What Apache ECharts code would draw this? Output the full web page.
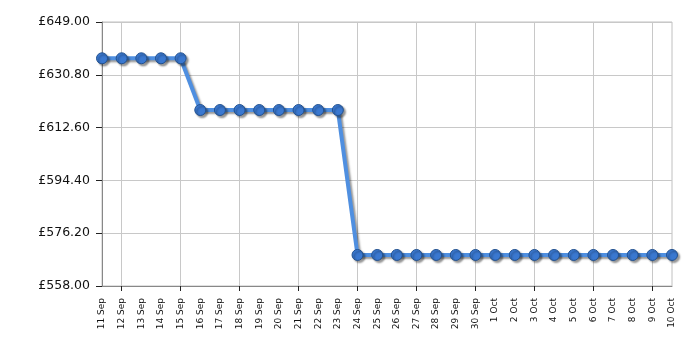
<!DOCTYPE html>
<html>
<head>
<meta charset="utf-8">
<script src="https://cdn.jsdelivr.net/npm/echarts@6/dist/echarts.min.js"></script>
<style>html,body{margin:0;padding:0;background:#fff}#c{width:700px;height:350px}</style>
</head>
<body>
<div id="c"></div>
<script>
const categories = ['11 Sep','12 Sep','13 Sep','14 Sep','15 Sep','16 Sep','17 Sep','18 Sep','19 Sep','20 Sep','21 Sep','22 Sep','23 Sep','24 Sep','25 Sep','26 Sep','27 Sep','28 Sep','29 Sep','30 Sep','1 Oct','2 Oct','3 Oct','4 Oct','5 Oct','6 Oct','7 Oct','8 Oct','9 Oct','10 Oct'];
const prices = [636.49,636.49,636.49,636.49,636.49,618.66,618.66,618.66,618.66,618.66,618.66,618.66,618.66,568.70,568.70,568.70,568.70,568.70,568.70,568.70,568.70,568.70,568.70,568.70,568.70,568.70,568.70,568.70,568.70,568.70];
const yMin = 558.00, yMax = 649.00, yStep = 18.20;

const chart = echarts.init(document.getElementById('c'));
const font = 'DejaVu Sans, Verdana, sans-serif';
chart.setOption({
  animation: false,
  grid: {left: 102, top: 22, right: 28, bottom: 64, show: true, borderColor: '#c0c0c0', borderWidth: 1, backgroundColor: 'transparent'},
  xAxis: {
    type: 'category', data: categories, boundaryGap: false,
    axisLine: {lineStyle: {color: '#888', width: 1}},
    axisTick: {show: true, length: 5, interval: (i) => i % 3 === 1, lineStyle: {color: '#222'}},
    splitLine: {show: true, interval: (i) => i % 3 === 1, lineStyle: {color: '#c8c8c8', width: 1}},
    axisLabel: {interval: 0, rotate: 90, fontSize: 9, color: '#111', fontFamily: font, margin: 12}
  },
  yAxis: {
    type: 'value', min: 0, max: yMax - yMin, interval: yStep,
    axisLine: {show: true, lineStyle: {color: '#888', width: 1}},
    axisTick: {show: true, length: 6, lineStyle: {color: '#222'}},
    splitLine: {show: true, lineStyle: {color: '#c8c8c8', width: 1}},
    axisLabel: {fontSize: 12.5, color: '#111', fontFamily: font, margin: 12,
      formatter: (v) => '£' + (v + yMin).toFixed(2)}
  },
  series: [{
    type: 'line',
    data: prices.map(p => +(p - yMin).toFixed(4)),
    symbol: 'circle', symbolSize: 11,
    lineStyle: {color: '#4f8fe0', width: 4, shadowColor: 'rgba(0,0,0,0.4)', shadowOffsetX: 2, shadowOffsetY: 2, shadowBlur: 2},
    itemStyle: {color: '#3a78d0', borderColor: '#22518f', borderWidth: 1, shadowColor: 'rgba(0,0,0,0.4)', shadowOffsetX: 2, shadowOffsetY: 2, shadowBlur: 2}
  }]
});
</script>
</body>
</html>
